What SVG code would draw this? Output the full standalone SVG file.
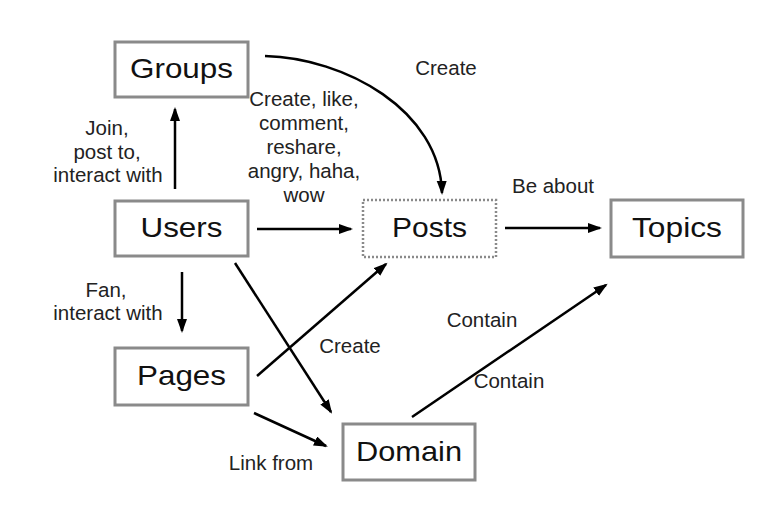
<svg xmlns="http://www.w3.org/2000/svg" width="763" height="507" viewBox="0 0 763 507">
<style>
.box{fill:#fff;stroke:#8a8a8a;stroke-width:3}
.dot{fill:#fff;stroke:#8a8a8a;stroke-width:2.5;stroke-dasharray:2 2}
.nt{font-family:"Liberation Sans",Arial,sans-serif;font-size:28px;fill:#111;text-anchor:middle}
.lb{font-family:"Liberation Sans",Arial,sans-serif;font-size:20.5px;fill:#222;text-anchor:middle}
.cn path{fill:none;stroke:#000;stroke-width:2.5;marker-end:url(#ah)}
</style>
<defs>
<marker id="ah" markerUnits="userSpaceOnUse" markerWidth="16" markerHeight="12" refX="12" refY="5" orient="auto">
<path d="M0,0 L14,5 L0,10 z" fill="#000"/>
</marker>
</defs>
<rect width="763" height="507" fill="#fff"/>
<g class="cn" id="connectors">
<path d="M175,189 L175,109"/>
<path d="M257,229 L351,229"/>
<path d="M265,56 C345,58 440,110 442,193"/>
<path d="M505,228 L600,228"/>
<path d="M182,272 L182,331"/>
<path d="M235,263 L331,412"/>
<path d="M257,376 L386,264"/>
<path d="M254,413 L326,446"/>
<path d="M412,417 L606,285"/>
</g>
<g id="labels">
<text class="lb" x="446" y="75">Create</text>
<text class="lb" x="107" y="135">Join,</text>
<text class="lb" x="107" y="159">post to,</text>
<text class="lb" x="108" y="182">interact with</text>
<text class="lb" x="304" y="106">Create, like,</text>
<text class="lb" x="304" y="130">comment,</text>
<text class="lb" x="304" y="154">reshare,</text>
<text class="lb" x="304" y="178">angry, haha,</text>
<text class="lb" x="304" y="202">wow</text>
<text class="lb" x="553" y="193">Be about</text>
<text class="lb" x="106" y="297">Fan,</text>
<text class="lb" x="108" y="320">interact with</text>
<text class="lb" x="350" y="353">Create</text>
<text class="lb" x="482" y="327">Contain</text>
<text class="lb" x="509" y="388">Contain</text>
<text class="lb" x="271" y="470">Link from</text>
</g>
<g id="groups"><rect class="box" x="115" y="42" width="133" height="55"/><text class="nt" x="181.5" y="78" textLength="103" lengthAdjust="spacingAndGlyphs">Groups</text></g>
<g id="users"><rect class="box" x="115" y="201" width="133" height="55"/><text class="nt" x="181.5" y="237" textLength="82" lengthAdjust="spacingAndGlyphs">Users</text></g>
<g id="posts"><rect class="dot" x="363" y="200" width="133" height="57"/><text class="nt" x="429.5" y="237" textLength="75" lengthAdjust="spacingAndGlyphs">Posts</text></g>
<g id="topics"><rect class="box" x="611" y="200" width="132" height="57"/><text class="nt" x="677" y="237" textLength="90" lengthAdjust="spacingAndGlyphs">Topics</text></g>
<g id="pages"><rect class="box" x="115" y="348" width="133" height="57"/><text class="nt" x="181.5" y="385" textLength="89" lengthAdjust="spacingAndGlyphs">Pages</text></g>
<g id="domain"><rect class="box" x="343" y="424" width="132" height="56"/><text class="nt" x="409" y="461" textLength="106" lengthAdjust="spacingAndGlyphs">Domain</text></g>
</svg>
